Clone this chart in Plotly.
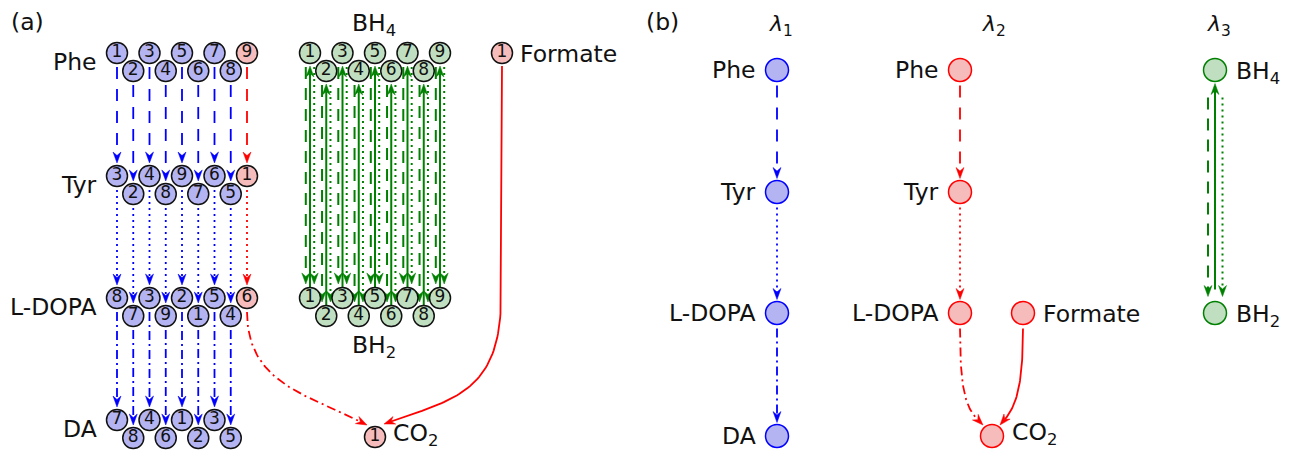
import numpy as np
import plotly.graph_objects as go

# ---------------- data ----------------
rows_a = ["Phe", "Tyr", "L-DOPA", "DA"]
orders_a = {
    "Phe": [1, 2, 3, 4, 5, 6, 7, 8, 9],
    "Tyr": [3, 2, 4, 8, 9, 7, 6, 5, 1],
    "L-DOPA": [8, 7, 3, 9, 2, 1, 5, 4, 6],
    "DA": [7, 8, 4, 6, 1, 2, 3, 5],
}
red_last_rows = ["Phe", "Tyr", "L-DOPA"]     # last node of these rows is red
bh4_ids = [1, 2, 3, 4, 5, 6, 7, 8, 9]
bh2_ids = [1, 2, 3, 4, 5, 6, 7, 8, 9]
formate_ids = [1]
co2_ids = [1]
step_styles = ["dash", "dot", "dashdot"]     # Phe->Tyr, Tyr->L-DOPA, L-DOPA->DA
chain_b1 = ["Phe", "Tyr", "L-DOPA", "DA"]
chain_b2 = ["Phe", "Tyr", "L-DOPA"]
chain_b3 = ["BH<sub>4</sub>", "BH<sub>2</sub>"]
lambda_labels = ["<i>λ</i><sub>1</sub>", "<i>λ</i><sub>2</sub>", "<i>λ</i><sub>3</sub>"]

# ---------------- style / layout ----------------
BLUE, RED, GREEN = "#0000ff", "#ff0000", "#008000"
FBLUE, FRED, FGREEN = "#b4b4f2", "#f6bcbc", "#c0dfc0"
DASHES = {"dash": "12px,10px", "dot": "2px,4px", "dashdot": "9px,4px,2px,4px",
          "solid": "solid", "gdash": "12px,9px", "gdot": "2px,4px"}
FONT = "DejaVu Sans"
PAGE_OFF = 8   # browser default body margin

AX0, ADX, ROW_Y, DY, RA = 117, 16.25, [53, 176, 298, 420], 18, 10
GX0, GDX, GY = 310, 16.25, [53, 298]
FORM_A, CO2_A = (502, 53), (375, 437)
RB = 11.5
BX1, BX2, FXB, CO2XB, BX3 = 777, 960, 1023, 992, 1215
BY = [70, 192, 313, 436]

segs = {}
heads = {}


def add_arrow(pts, color, dash, width=1.8, L=11, W=4, notch=3.5):
    pts = np.asarray(pts, float)
    tip = pts[-1]
    dist = np.hypot(*(pts - tip).T)
    idx = np.where(dist >= L)[0]
    back = pts[idx[-1]] if len(idx) else pts[0]
    d = tip - back
    d = d / np.linalg.norm(d)
    n = np.array([-d[1], d[0]])
    base = tip - (L - notch) * d
    line = np.vstack([pts[dist > (L - notch)], base])
    key = (color, dash, width)
    s = segs.setdefault(key, ([], []))
    s[0].extend(list(line[:, 0]) + [None])
    s[1].extend(list(line[:, 1]) + [None])
    poly = np.array([tip, tip - L * d + W * n, base, tip - L * d - W * n, tip])
    h = heads.setdefault(color, ([], []))
    h[0].extend(list(poly[:, 0]) + [None])
    h[1].extend(list(poly[:, 1]) + [None])


def bezier(p0, p1, p2, p3, n=60):
    t = np.linspace(0, 1, n)[:, None]
    p0, p1, p2, p3 = map(np.asarray, (p0, p1, p2, p3))
    return (1 - t) ** 3 * p0 + 3 * (1 - t) ** 2 * t * p1 + 3 * (1 - t) * t ** 2 * p2 + t ** 3 * p3


def pos_a(row, col):
    return AX0 + col * ADX, ROW_Y[row] + DY * (col % 2)


def pos_g(row, col):
    return GX0 + col * GDX, GY[row] + DY * (col % 2)


# ---- panel (a) pathway arrows ----
for r in range(3):
    src, dst = rows_a[r], rows_a[r + 1]
    ncol = min(len(orders_a[src]), len(orders_a[dst]))
    for c in range(ncol):
        xs, ys = pos_a(r, c)
        xt, yt = pos_a(r + 1, c)
        red = (c == len(orders_a[src]) - 1) and src in red_last_rows and dst in red_last_rows
        add_arrow([(xs, ys + RA + 4), (xt, yt - RA - 3)], RED if red else BLUE, step_styles[r])

# L-DOPA red node -> CO2 (dash-dot curve)
xl, yl = pos_a(2, len(orders_a["L-DOPA"]) - 1)
add_arrow(bezier((xl, yl + RA + 4), (xl, yl + 87), (xl + 63, yl + 97), (CO2_A[0] - 8, CO2_A[1] - 12)),
          RED, "dashdot")
# Formate -> CO2 (solid)
fx, fy = FORM_A
path = np.vstack([[[fx, fy + RA + 3]],
                  bezier((fx - 1, 300), (fx - 2, 395), (fx - 52, 400), (CO2_A[0] + 9, CO2_A[1] - 13))])
add_arrow(path, RED, "solid")

# ---- panel (a) BH4 <-> BH2 ----
for c in range(len(bh4_ids)):
    x, y4 = pos_g(0, c)
    _, y2 = pos_g(1, c)
    add_arrow([(x - 4.2, y4 + RA + 4), (x - 4.2, y2 - RA - 4)], GREEN, "gdash", 2)
    add_arrow([(x + 4.2, y4 + RA + 4), (x + 4.2, y2 - RA - 4)], GREEN, "gdot", 2)
    add_arrow([(x, y2 - RA), (x, y4 + RA + 3)], GREEN, "solid", 2)

# ---- panel (b) ----
for k in range(len(chain_b1) - 1):
    add_arrow([(BX1, BY[k] + RB + 4), (BX1, BY[k + 1] - RB - 2)], BLUE, step_styles[k])
for k in range(len(chain_b2) - 1):
    add_arrow([(BX2, BY[k] + RB + 4), (BX2, BY[k + 1] - RB - 2)], RED, step_styles[k])
add_arrow(bezier((BX2, BY[2] + RB + 4), (BX2, 395), (BX2 + 6, 410), (CO2XB - 9, BY[3] - 11)), RED, "dashdot")
add_arrow(bezier((FXB, BY[2] + RB + 4), (FXB, 395), (FXB - 9, 410), (CO2XB + 8, BY[3] - 11)), RED, "solid")
add_arrow([(BX3 - 7, BY[0] + RB + 16), (BX3 - 7, BY[2] - RB - 5)], GREEN, "gdash", 2)
add_arrow([(BX3 + 7.5, BY[0] + RB + 16), (BX3 + 7.5, BY[2] - RB - 5)], GREEN, "gdot", 2)
add_arrow([(BX3, BY[2] - RB - 12), (BX3, BY[0] + RB + 2)], GREEN, "solid", 2)

fig = go.Figure()
for (color, dash, width), (xs, ys) in segs.items():
    fig.add_trace(go.Scatter(x=xs, y=ys, mode="lines", hoverinfo="skip",
                             line=dict(color=color, width=width, dash=DASHES[dash])))
for color, (xs, ys) in heads.items():
    fig.add_trace(go.Scatter(x=xs, y=ys, mode="lines", fill="toself", fillcolor=color,
                             line=dict(color=color, width=0.5), hoverinfo="skip"))


def node_trace(xs, ys, labels, fills, size, lcolor, lw=1.5):
    kw = {}
    if labels:
        kw = dict(text=[str(v) for v in labels], textposition="middle center",
                  textfont=dict(family=FONT, size=17, color="#111111"))
    fig.add_trace(go.Scatter(
        x=xs, y=ys, mode="markers+text" if labels else "markers",
        marker=dict(size=size, color=fills, line=dict(color=lcolor, width=lw)),
        hoverinfo="skip", **kw))


for r, row in enumerate(rows_a):
    ids = orders_a[row]
    p = [pos_a(r, c) for c in range(len(ids))]
    fills = [FRED if (row in red_last_rows and c == len(ids) - 1) else FBLUE for c in range(len(ids))]
    node_trace([q[0] for q in p], [q[1] for q in p], ids, fills, 2 * RA + 1, "#111111")
for r, ids in enumerate([bh4_ids, bh2_ids]):
    p = [pos_g(r, c) for c in range(len(ids))]
    node_trace([q[0] for q in p], [q[1] for q in p], ids, FGREEN, 2 * RA + 1, "#111111")
node_trace([FORM_A[0]], [FORM_A[1]], formate_ids, FRED, 2 * RA + 1, "#111111")
node_trace([CO2_A[0]], [CO2_A[1]], co2_ids, FRED, 2 * RA + 1, "#111111")

node_trace([BX1] * len(chain_b1), BY[:len(chain_b1)], None, FBLUE, 2 * RB, BLUE)
node_trace([BX2] * len(chain_b2) + [FXB, CO2XB], BY[:len(chain_b2)] + [BY[2], BY[3]], None, FRED, 2 * RB, RED)
node_trace([BX3, BX3], [BY[0], BY[2]], None, FGREEN, 2 * RB, GREEN)

ann = []


def txt(x, y, s, xanchor="center", size=23.5):
    ann.append(dict(x=x, y=y, text=s, showarrow=False, xanchor=xanchor, yanchor="middle",
                    font=dict(family=FONT, size=size, color="#111111")))


for r, row in enumerate(rows_a):
    txt(99, ROW_Y[r] + DY / 2, row, "right")
txt(374, 24, "BH<sub>4</sub>")
txt(374, 346, "BH<sub>2</sub>")
txt(FORM_A[0] + 16, FORM_A[1] + 1, "Formate", "left")
txt(CO2_A[0] + 16, CO2_A[1] - 3, "CO<sub>2</sub>", "left")
txt(27, 22, "(a)")
txt(662, 22, "(b)")
for k, name in enumerate(chain_b1):
    txt(BX1 - RB - 8, BY[k], name, "right")
for k, name in enumerate(chain_b2):
    txt(BX2 - RB - 8, BY[k], name, "right")
txt(FXB + RB + 6, BY[2] + 1, "Formate", "left")
txt(CO2XB + RB + 6, BY[3] - 3, "CO<sub>2</sub>", "left")
txt(BX3 + RB + 7, BY[0] + 2, chain_b3[0], "left")
txt(BX3 + RB + 7, BY[2] + 2, chain_b3[1], "left")
for x, lab in zip([781, 994, 1219], lambda_labels):
    txt(x, 25, lab, size=22)

fig.update_layout(
    width=1292 - PAGE_OFF, height=450 - PAGE_OFF, autosize=False,
    margin=dict(l=0, r=0, t=0, b=0, pad=0),
    paper_bgcolor="white", plot_bgcolor="white",
    showlegend=False, annotations=ann,
    xaxis=dict(range=[PAGE_OFF, 1292], visible=False, fixedrange=True),
    yaxis=dict(range=[450, PAGE_OFF], visible=False, fixedrange=True),
)
fig.write_html("out.html", config={"displayModeBar": False})
